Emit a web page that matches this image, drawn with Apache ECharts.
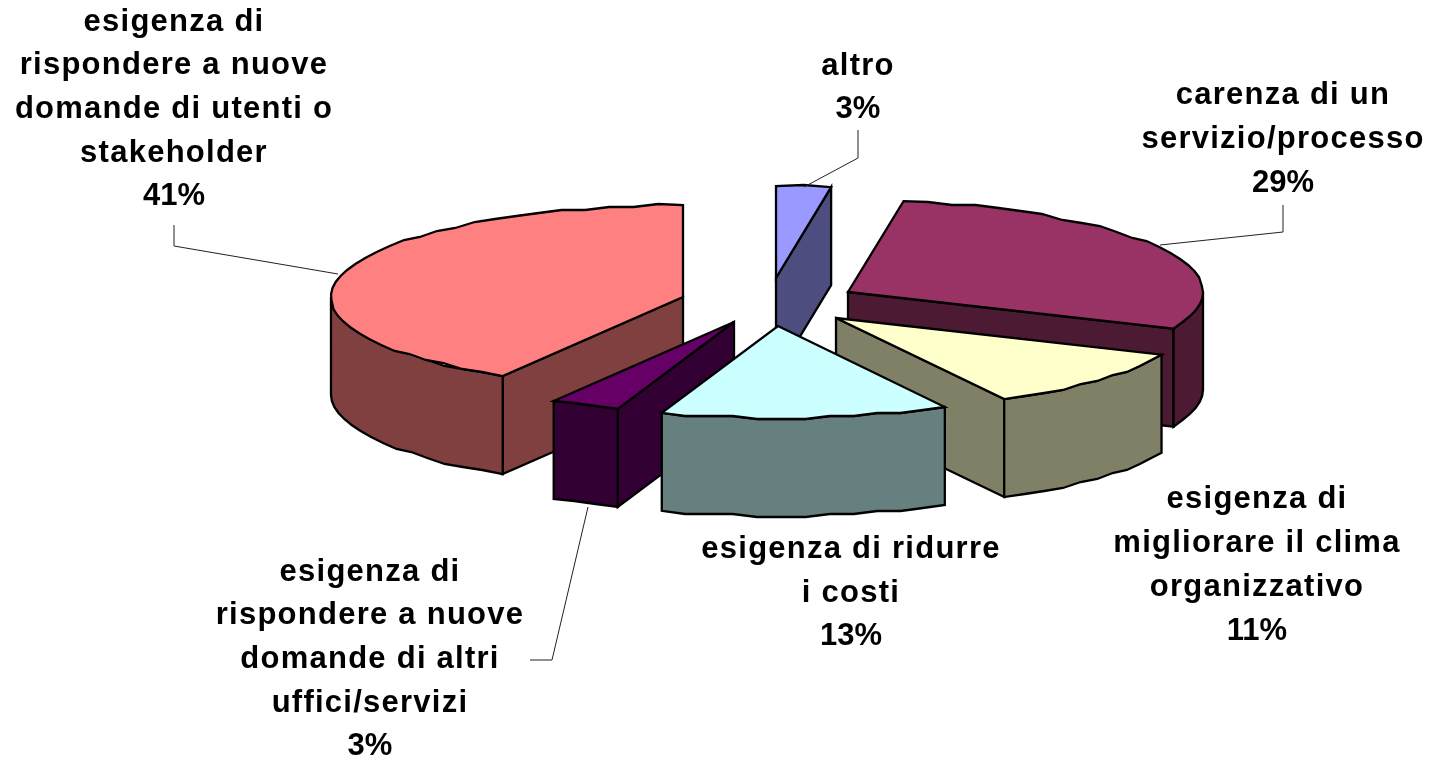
<!DOCTYPE html>
<html>
<head>
<meta charset="utf-8">
<style>html,body{margin:0;padding:0;background:#fff}#main{width:1433px;height:758px}</style>
<script src="https://cdn.jsdelivr.net/npm/echarts@6/dist/echarts.min.js"></script>
</head>
<body>
<div id="main"></div>
<script>
// Data, clockwise from 12 o'clock
var categories = [
  'altro',
  'carenza di un\nservizio/processo',
  'esigenza di\nmigliorare il clima\norganizzativo',
  'esigenza di ridurre\ni costi',
  'esigenza di\nrispondere a nuove\ndomande di altri\nuffici/servizi',
  'esigenza di\nrispondere a nuove\ndomande di utenti o\nstakeholder'
];
var shares = [2.5, 29.0, 10.6, 13.2, 3.2, 41.4];

// Styles and layout
var topColors  = ['#9999FF', '#993366', '#FFFFCC', '#CCFFFF', '#660066', '#FF8080'];
var sideColors = ['#4D4D80', '#4D1A33', '#808066', '#668080', '#330033', '#804040'];
var apexes = [[776,278],[848,292],[836,318],[778,326],[734,322],[683,297]];
var radiiX = [352, 355, 355, 352, 352, 352];
var stacking = [1, 2, 4, 6, 5, 3];
var labelCentres = [[858,88],[1283,139.5],[1257,565.5],[851,593],[370,659.5],[174,109.5]];
var leaders = [
  [[858,130],[858,158],[804,187]],
  [[1283,205],[1283,232],[1160,245]],
  null,
  null,
  [[530,660],[552,660],[588,507]],
  [[174,225],[174,246],[338,274]]
];
var RY = 92, DEPTH = 98;
var FONT = 'bold 31px "Liberation Sans", Arial, sans-serif';

// The reference text is set with slightly open tracking
var nativeFillText = CanvasRenderingContext2D.prototype.fillText;
CanvasRenderingContext2D.prototype.fillText = function (t, x, y, m) {
  this.letterSpacing = /\d/.test(t) ? '0px' : '1.25px';
  var r = m === undefined ? nativeFillText.call(this, t, x, y) : nativeFillText.call(this, t, x, y, m);
  this.letterSpacing = '0px';
  return r;
};

var total = shares.reduce(function (a, b) { return a + b; }, 0);
var starts = [], run = 0;
shares.forEach(function (v) { starts.push(run / total * 360); run += v; });

function exact(apex, rx, deg) {
  var r = deg * Math.PI / 180;
  return [apex[0] + Math.sin(r) * rx, apex[1] - Math.cos(r) * RY];
}
// Coarse rounding of the rim mimics the faceted outline of the original renderer
function rim(apex, rx, a, b) {
  var pts = [exact(apex, rx, a)], n = Math.max(1, Math.round((b - a) / 4));
  for (var i = 1; i < n; i++) {
    var p = exact(apex, rx, a + (b - a) * i / n);
    pts.push([p[0], Math.round((p[1] - apex[1]) / 3) * 3 + apex[1]]);
  }
  pts.push(exact(apex, rx, b));
  return pts;
}
function down(p) { return [p[0], p[1] + DEPTH]; }

function renderItem(params, api) {
  var i = params.dataIndex;
  var value = api.value(0);
  var a = starts[i], b = a + value / total * 360, apex = apexes[i], rx = radiiX[i];
  var z = stacking[i] * 10;
  var kids = [];
  function poly(points, fill, zz) {
    kids.push({ type: 'polygon', z2: zz, shape: { points: points },
      style: { fill: fill, stroke: '#000', lineWidth: 2.3, lineJoin: 'miter', miterLimit: 4 } });
  }
  var pa = exact(apex, rx, a), pb = exact(apex, rx, b);
  if (a > 180 && a < 360) poly([apex, pa, down(pa), down(apex)], sideColors[i], z);
  if (b > 0 && b < 180) poly([apex, pb, down(pb), down(apex)], sideColors[i], z + 1);
  var fa = Math.max(a, 90), fb = Math.min(b, 270);
  if (fb > fa) {
    var arc = rim(apex, rx, fa, fb);
    poly(arc.concat(arc.slice().reverse().map(down)), sideColors[i], z + 2);
  }
  poly([apex].concat(rim(apex, rx, a, b)), topColors[i], z + 3);
  if (leaders[i]) {
    kids.push({ type: 'polyline', z2: 100, shape: { points: leaders[i] },
      style: { fill: null, stroke: '#222', lineWidth: 1 } });
  }
  kids.push({ type: 'text', z2: 101, x: labelCentres[i][0], y: labelCentres[i][1],
    style: { text: categories[i] + '\n' + Math.round(value) + '%', font: FONT, fill: '#000',
      align: 'center', verticalAlign: 'middle', lineHeight: 43.7 } });
  return { type: 'group', children: kids };
}

var chart = echarts.init(document.getElementById('main'), null, { renderer: 'canvas' });
chart.setOption({
  animation: false,
  backgroundColor: '#fff',
  series: [{
    type: 'custom',
    coordinateSystem: 'none',
    renderItem: renderItem,
    encode: { value: 0 },
    data: shares.map(function (v, i) { return { name: categories[i], value: [v] }; })
  }]
});
</script>
</body>
</html>
